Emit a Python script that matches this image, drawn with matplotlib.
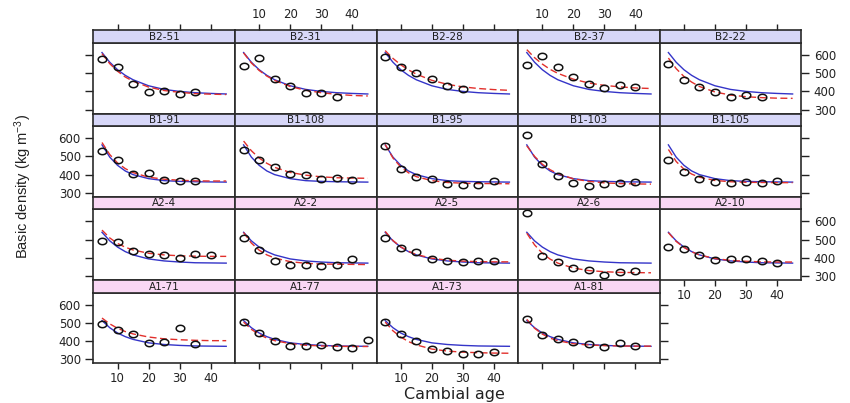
import numpy as np
import matplotlib
matplotlib.use("Agg")
import matplotlib.pyplot as plt
from matplotlib.path import Path
from matplotlib import font_manager

# ------------------------------------------------------------------ data
ages_obs = [5, 10, 15, 20, 25, 30, 35, 40, 45]
ages_fit = [5, 7.5, 10, 12.5, 15, 20, 25, 30, 35, 40, 45]
x_ticks = [10, 20, 30, 40]
y_ticks = [300, 400, 500, 600]

panel_rows = [
    ["B2-51", "B2-31", "B2-28", "B2-37", "B2-22"],
    ["B1-91", "B1-108", "B1-95", "B1-103", "B1-105"],
    ["A2-4", "A2-2", "A2-5", "A2-6", "A2-10"],
    ["A1-71", "A1-77", "A1-73", "A1-81"],
]

# observed basic density (kg m-3) at cambial ages 5, 10, 15, ...
obs_B2_51 = [580, 534, 440, 399, 405, 388, 399]
obs_B2_31 = [541, 583, 467, 432, 392, 390, 368]
obs_B2_28 = [588, 533, 503, 467, 430, 415]
obs_B2_37 = [543, 595, 536, 477, 440, 418, 434, 426]
obs_B2_22 = [550, 464, 425, 396, 372, 381, 368]
obs_B1_91 = [529, 479, 404, 411, 369, 364, 366]
obs_B1_108 = [533, 482, 442, 405, 397, 378, 382, 371]
obs_B1_95 = [556, 430, 388, 376, 347, 342, 345, 365]
obs_B1_103 = [615, 460, 391, 355, 335, 348, 353, 362]
obs_B1_105 = [481, 415, 375, 358, 353, 359, 355, 367]
obs_A2_4 = [491, 487, 438, 420, 413, 399, 419, 415]
obs_A2_2 = [507, 444, 384, 362, 362, 353, 359, 391]
obs_A2_5 = [509, 456, 433, 395, 382, 378, 384, 384]
obs_A2_6 = [648, 411, 377, 344, 331, 305, 320, 327]
obs_A2_10 = [459, 446, 414, 389, 395, 394, 383, 372]
obs_A1_71 = [496, 459, 437, 391, 394, 469, 383]
obs_A1_77 = [504, 443, 398, 370, 370, 376, 367, 363, 407]
obs_A1_73 = [504, 439, 402, 356, 343, 330, 330, 341]
obs_A1_81 = [519, 435, 411, 393, 383, 365, 387, 370]

# individual (red dashed) fitted curves, at ages_fit
ind_B2_51 = [607, 552, 511, 479, 456, 424, 405, 395, 388, 385, 383]
ind_B2_31 = [611, 556, 515, 484, 460, 427, 406, 393, 384, 378, 375]
ind_B2_28 = [624, 581, 546, 518, 495, 461, 439, 425, 416, 410, 406]
ind_B2_37 = [629, 585, 550, 521, 499, 467, 446, 433, 425, 419, 416]
ind_B2_22 = [583, 525, 482, 451, 427, 397, 380, 371, 366, 363, 362]
ind_B1_91 = [576, 510, 464, 433, 411, 386, 375, 369, 366, 365, 365]
ind_B1_108 = [584, 531, 491, 462, 440, 412, 397, 388, 383, 381, 380]
ind_B1_95 = [565, 491, 442, 410, 389, 367, 357, 353, 351, 351, 350]
ind_B1_103 = [558, 500, 457, 427, 405, 377, 363, 355, 351, 349, 348]
ind_B1_105 = [538, 472, 430, 403, 386, 368, 361, 358, 357, 356, 356]
ind_A2_4 = [552, 509, 479, 458, 443, 425, 416, 411, 409, 408, 408]
ind_A2_2 = [539, 481, 442, 416, 399, 379, 370, 366, 365, 364, 363]
ind_A2_5 = [545, 495, 460, 436, 418, 398, 387, 382, 379, 378, 378]
ind_A2_6 = [535, 471, 425, 393, 371, 344, 330, 324, 320, 319, 318]
ind_A2_10 = [538, 490, 457, 433, 416, 396, 386, 381, 378, 377, 377]
ind_A1_71 = [526, 494, 470, 452, 439, 422, 412, 407, 404, 402, 402]
ind_A1_77 = [504, 464, 436, 416, 402, 386, 377, 373, 371, 370, 370]
ind_A1_73 = [504, 456, 422, 397, 379, 356, 345, 339, 336, 334, 333]
ind_A1_81 = [519, 470, 438, 416, 402, 385, 378, 375, 373, 372, 372]

# population (blue) fitted curves per group, at ages_fit
pop_B2 = [613, 560, 519, 488, 464, 431, 411, 400, 393, 389, 386]
pop_B1 = [563, 496, 451, 420, 400, 378, 367, 363, 361, 360, 359]
pop_A2 = [540, 493, 459, 434, 416, 394, 383, 377, 373, 372, 371]
pop_A1 = [512, 473, 444, 424, 409, 390, 381, 376, 373, 372, 371]

obs_rows = [
    [obs_B2_51, obs_B2_31, obs_B2_28, obs_B2_37, obs_B2_22],
    [obs_B1_91, obs_B1_108, obs_B1_95, obs_B1_103, obs_B1_105],
    [obs_A2_4, obs_A2_2, obs_A2_5, obs_A2_6, obs_A2_10],
    [obs_A1_71, obs_A1_77, obs_A1_73, obs_A1_81],
]
ind_rows = [
    [ind_B2_51, ind_B2_31, ind_B2_28, ind_B2_37, ind_B2_22],
    [ind_B1_91, ind_B1_108, ind_B1_95, ind_B1_103, ind_B1_105],
    [ind_A2_4, ind_A2_2, ind_A2_5, ind_A2_6, ind_A2_10],
    [ind_A1_71, ind_A1_77, ind_A1_73, ind_A1_81],
]
pop_rows = [pop_B2, pop_B1, pop_A2, pop_A1]
strip_colors = ["#D7D7F8", "#D7D7F8", "#F9D7F4", "#F9D7F4"]

# ------------------------------------------------------------------ style
W, H = 850, 403
COL_X0, COL_W = 93.3, 141.6
ROW_Y0, ROW_H, STRIP_H = 30.3, 83.2, 12.6
PANEL_H = ROW_H - STRIP_H
XLIM = (2.2, 47.8)
YLIM = (279, 666)
INK = "#222222"
BORDER = "#2a2a2a"

def has_font(name):
    try:
        font_manager.findfont(font_manager.FontProperties(family=name),
                              fallback_to_default=False)
        return True
    except Exception:
        return False

narrow = "Liberation Sans Narrow" if has_font("Liberation Sans Narrow") else "Liberation Sans"
plt.rcParams["mathtext.default"] = "regular"

theta = np.linspace(0, 2 * np.pi, 41)
ellipse = Path(np.column_stack([1.35 * np.cos(theta), np.sin(theta)]))

fig = plt.figure(figsize=(W / 100, H / 100), dpi=100)
fig.patch.set_facecolor("white")

for r, names in enumerate(panel_rows):
    ncols = len(names)
    for c, name in enumerate(names):
        x0 = COL_X0 + c * COL_W
        top = ROW_Y0 + r * ROW_H
        ax = fig.add_axes([x0 / W, 1 - (top + STRIP_H + PANEL_H) / H,
                           COL_W / W, PANEL_H / H])
        sax = fig.add_axes([x0 / W, 1 - (top + STRIP_H) / H,
                            COL_W / W, STRIP_H / H])

        obs = obs_rows[r][c]
        ax.plot(ages_fit, pop_rows[r], color="#3434C8", lw=1.0, zorder=2)
        ax.plot(ages_fit, ind_rows[r][c], color="#E2302C", lw=1.0,
                linestyle=(0, (5, 2.5)), zorder=3)
        ax.plot(ages_obs[:len(obs)], obs, linestyle="none", marker=ellipse,
                ms=6.2, mfc="none", mec="#111111", mew=1.1, zorder=4)

        ax.set_xlim(*XLIM)
        ax.set_ylim(*YLIM)
        ax.set_xticks(x_ticks)
        ax.set_yticks(y_ticks)
        for sp in ax.spines.values():
            sp.set_color(BORDER)
            sp.set_linewidth(1.2)

        is_last = (c == ncols - 1)
        is_bottom = (r == 3) or (c == 4 and r == 2)
        ax.tick_params(axis="x", direction="out", length=4, width=1.0,
                       color=INK, labelcolor=INK, labelsize=8.5, pad=2.5,
                       bottom=is_bottom, top=False,
                       labelbottom=is_bottom and c in (0, 2, 4), labeltop=False)
        ax.tick_params(axis="y", direction="out", length=6, width=1.0,
                       color=INK, labelcolor=INK, labelsize=8.5, pad=3,
                       left=(c == 0), right=is_last,
                       labelleft=(c == 0 and r in (1, 3)),
                       labelright=(is_last and r in (0, 2)))

        # strip
        sax.set_facecolor(strip_colors[r])
        sax.set_xlim(*XLIM)
        sax.set_ylim(0, 1)
        sax.set_yticks([])
        for sp in sax.spines.values():
            sp.set_color(BORDER)
            sp.set_linewidth(1.2)
        if r == 0:
            sax.set_xticks(x_ticks)
            sax.tick_params(axis="x", direction="out", length=4, width=1.0,
                            color=INK, labelcolor=INK, labelsize=8.5, pad=3,
                            top=True, bottom=False,
                            labeltop=(c in (1, 3)), labelbottom=False)
        else:
            sax.set_xticks([])
        sax.text(0.5, 0.47, name, transform=sax.transAxes, ha="center",
                 va="center", fontsize=7.5, color="#1e1e1e")

fig.text(23 / W, 1 - 187 / H, "Basic density (kg m$^{-3}$)", rotation=90,
         ha="center", va="center", fontsize=10.5, family=narrow, color=INK)
fig.text(454 / W, 1 - 394 / H, "Cambial age", ha="center", va="center",
         fontsize=11.5, color=INK)

fig.savefig("out.png", dpi=100, facecolor="white")
